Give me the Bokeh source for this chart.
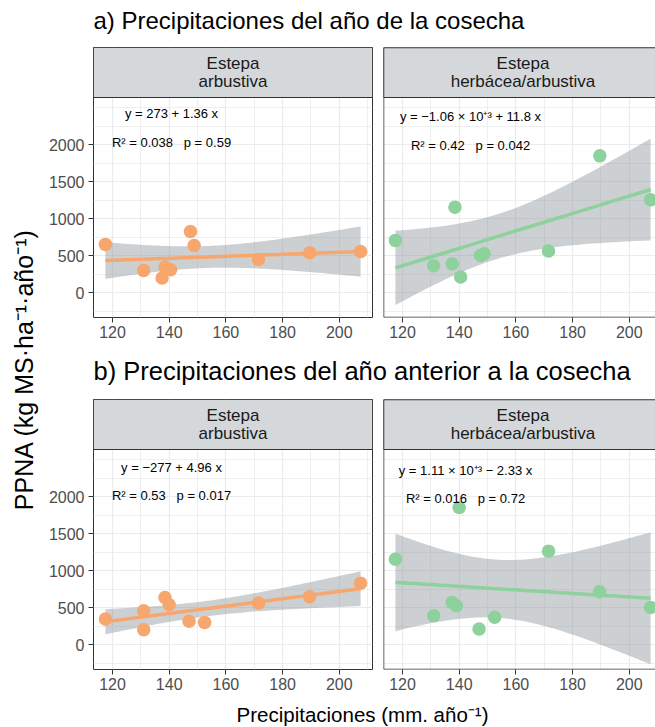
import numpy as np
from bokeh.plotting import figure
from bokeh.models import Range1d, FixedTicker, Span
from bokeh.layouts import row, column
from bokeh.embed import file_html
from bokeh.resources import INLINE
from bokeh.core.properties import value

# ---------------- data ----------------
# a) precipitation of the harvest year
precip_a = [117.5, 131.0, 137.5, 138.5, 140.5, 147.5, 148.8, 171.5, 189.6, 207.5]
ppna_a_arbustiva = [652, 301, 198, 346, 310, 827, 638, 449, 539, 557]
ppna_a_herbacea = [706, 364, 391, 1155, 211, 503, 526, 562, 1847, 1254]
# b) precipitation of the previous year
precip_b_arbustiva = [117.5, 131.0, 131.0, 138.5, 140.0, 147.0, 152.5, 171.5, 189.5, 207.5]
ppna_b_arbustiva = [346, 458, 202, 638, 539, 315, 301, 562, 647, 831]
precip_b_herbacea = [117.5, 131.0, 137.5, 139.0, 140.0, 147.0, 152.5, 171.5, 189.5, 207.5]
ppna_b_herbacea = [1155, 391, 571, 526, 1852, 211, 369, 1263, 715, 503]

strip_labels = [["Estepa", "arbustiva"], ["Estepa", "herbácea/arbustiva"]]
SP = "\u00a0\u00a0\u00a0"
eq_a = ["y = 273 + 1.36 x", "y = −1.06 × 10⁺³ + 11.8 x"]
stat_a = ["R² = 0.038" + SP + "p = 0.59", "R² = 0.42" + SP + "p = 0.042"]
eq_b = ["y = −277 + 4.96 x", "y = 1.11 × 10⁺³ − 2.33 x"]
stat_b = ["R² = 0.53" + SP + "p = 0.017", "R² = 0.016" + SP + "p = 0.72"]

x_ticks = [120, 140, 160, 180, 200]
x_minor = [110, 130, 150, 170, 190, 210]
y_ticks = [0, 500, 1000, 1500, 2000]
y_minor = [-250, 250, 750, 1250, 1750, 2250, 2500]

title_a = "a) Precipitaciones del año de la cosecha"
title_b = "b) Precipitaciones del año anterior a la cosecha"
x_title = "Precipitaciones (mm. año⁻¹)"
y_title = "PPNA (kg MS·ha⁻¹·año⁻¹)"

# ---------------- style / layout ----------------
FONT = value("Liberation Sans")
ORANGE = "#F7A76E"
GREEN = "#8DD19C"
BORDER = "#333333"
X_START, X_FULL_END = 113.3, 211.7
Y_LO, Y_HI = -335.0, 2635.0
PANEL_H, STRIP_H = 220, 50
LEFT_FRAME_W, RIGHT_FRAME_W = 279, 272
PX_X = LEFT_FRAME_W / (X_FULL_END - X_START)
UPP = (Y_HI - Y_LO) / PANEL_H
Y_TOP = Y_HI + STRIP_H * UPP
FIG_H = 298
T_CRIT = 2.306  # t(0.975, df = 8)


def fit_band(xs, ys):
    x = np.asarray(xs, float)
    y = np.asarray(ys, float)
    n = len(x)
    b, a = np.polyfit(x, y, 1)
    xg = np.linspace(x.min(), x.max(), 80)
    yhat = a + b * xg
    resid = y - (a + b * x)
    s = np.sqrt(np.sum(resid ** 2) / (n - 2))
    sxx = np.sum((x - x.mean()) ** 2)
    se = s * np.sqrt(1.0 / n + (xg - x.mean()) ** 2 / sxx)
    return xg, yhat, yhat - T_CRIT * se, yhat + T_CRIT * se


def panel(xs, ys, color, strip, eq, stat, left, eq_dx, eq_dy):
    frame_w = LEFT_FRAME_W if left else RIGHT_FRAME_W
    x_end = X_START + frame_w / PX_X
    bl = 49 if left else 6
    br = 5 if left else 0
    p = figure(width=bl + frame_w + br, height=FIG_H,
               x_range=Range1d(X_START, x_end), y_range=Range1d(Y_LO, Y_TOP),
               output_backend="svg", toolbar_location=None,
               min_border_left=bl, min_border_right=br,
               min_border_top=0, min_border_bottom=FIG_H - PANEL_H - STRIP_H)
    p.background_fill_color = "white"
    p.border_fill_color = "white"
    if left:
        p.outline_line_color = BORDER
        p.outline_line_width = 1
    else:
        # the facet continues past the right edge of the page: no right border
        p.outline_line_color = None

    p.xaxis.ticker = FixedTicker(ticks=x_ticks, minor_ticks=x_minor)
    p.yaxis.ticker = FixedTicker(ticks=y_ticks, minor_ticks=y_minor)
    p.xgrid.ticker = FixedTicker(ticks=x_ticks, minor_ticks=x_minor)
    p.ygrid.ticker = FixedTicker(ticks=y_ticks, minor_ticks=y_minor)
    for g in (p.xgrid, p.ygrid):
        g.grid_line_color = "#EBEBEB"
        g.grid_line_width = 1.2
        g.minor_grid_line_color = "#EBEBEB"
        g.minor_grid_line_width = 0.8
    for ax in (p.xaxis, p.yaxis):
        ax.axis_line_color = None
        ax.major_tick_line_color = BORDER
        ax.major_tick_in = 0
        ax.major_tick_out = 5
        ax.minor_tick_in = 0
        ax.minor_tick_out = 0
        ax.major_label_text_font = "Liberation Sans"
        ax.major_label_text_font_size = "16px"
        ax.major_label_text_color = "#4D4D4D"
    p.xaxis.major_label_standoff = 3
    p.yaxis.major_label_standoff = 4
    if not left:
        p.yaxis.visible = False

    # regression band, line, points
    xg, yhat, lo, hi = fit_band(xs, ys)
    p.varea(x=xg, y1=lo, y2=hi, fill_color="#8E979C", fill_alpha=0.45)
    p.line(xg, yhat, line_color=color, line_width=3.5)
    p.scatter(xs, ys, size=13.5, fill_color=color, line_color=None)

    # strip
    p.quad(left=[X_START], right=[x_end], bottom=[Y_HI], top=[Y_TOP],
           fill_color="#D5D8DA", line_color=BORDER, line_width=1)
    ymid = (Y_HI + Y_TOP) / 2
    xmid = (X_START + x_end) / 2 if left else X_START + (LEFT_FRAME_W / 2) / PX_X
    p.text(x=[xmid, xmid], y=[ymid + 9 * UPP, ymid - 9 * UPP], text=strip,
           text_font=FONT, text_font_size="17px", text_color="#1A1A1A",
           text_align="center", text_baseline="middle")

    if not left:
        for loc, dim in ((X_START, "height"), (Y_LO, "width"), (Y_TOP, "width")):
            p.add_layout(Span(location=loc, dimension=dim, line_color=BORDER,
                              line_width=1.5))

    # equation labels
    ex = X_START + eq_dx / PX_X
    p.text(x=[ex, ex], y=[Y_HI - eq_dy[0] * UPP, Y_HI - eq_dy[1] * UPP],
           text=[eq, stat], text_font=FONT, text_font_size="13px",
           text_color="black", text_align="center", text_baseline="middle")
    return p


def text_fig(w, h, xs, ys, texts, size, angle=0.0, align="left"):
    f = figure(width=w, height=h, x_range=Range1d(0, w), y_range=Range1d(h, 0),
               x_axis_type=None, y_axis_type=None,
               output_backend="svg", toolbar_location=None, min_border=0)
    f.grid.visible = False
    f.outline_line_color = None
    f.background_fill_color = "white"
    f.border_fill_color = "white"
    f.text(x=xs, y=ys, text=texts, angle=angle, text_font=FONT,
           text_font_size=size, text_color="black", text_align=align,
           text_baseline="middle")
    return f


COL_W = 611
pa1 = panel(precip_a, ppna_a_arbustiva, ORANGE, strip_labels[0], eq_a[0], stat_a[0], True, 78, (16, 45))
pa2 = panel(precip_a, ppna_a_herbacea, GREEN, strip_labels[1], eq_a[1], stat_a[1], False, 87, (19, 48))
pb1 = panel(precip_b_arbustiva, ppna_b_arbustiva, ORANGE, strip_labels[0], eq_b[0], stat_b[0], True, 78, (18, 46))
pb2 = panel(precip_b_herbacea, ppna_b_herbacea, GREEN, strip_labels[1], eq_b[1], stat_b[1], False, 82, (21, 49))

t_a = text_fig(COL_W, 47, [49], [20], [title_a], "24px")
t_b = text_fig(COL_W, 54, [49], [25], [title_b], "25.5px")
t_x = text_fig(COL_W, 30, [318], [17], [x_title], "20.5px", align="center")
t_y = text_fig(44, 727, [23], [369], [y_title], "25px", angle=np.pi / 2, align="center")

layout = row(t_y, column(t_a, row(pa1, pa2), t_b, row(pb1, pb2), t_x))

open("out.html", "w", encoding="utf-8").write(file_html(layout, INLINE))
